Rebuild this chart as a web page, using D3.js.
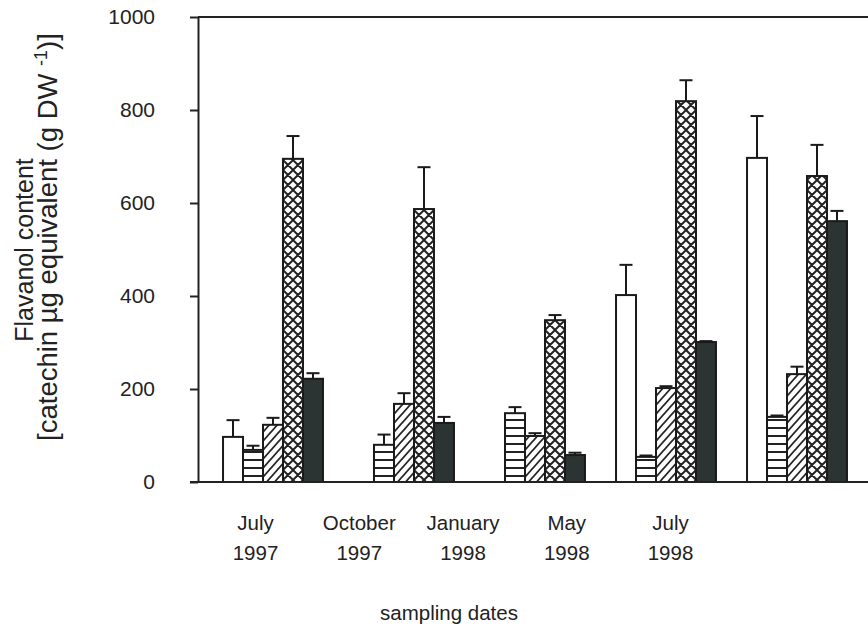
<!DOCTYPE html>
<html>
<head>
<meta charset="utf-8">
<script src="https://cdn.jsdelivr.net/npm/d3@7"></script>
<style>
  body { margin: 0; background: #fff; }
  svg { display: block; font-family: "Liberation Sans", Arial, sans-serif; }
  .axis path, .axis line { stroke: #222; stroke-width: 2; }
  .axis text { font-size: 21px; fill: #222; font-family: "Liberation Sans", Arial, sans-serif; }
</style>
</head>
<body>
<script>
//sampling dates (categories) and label lines
var dates = ["July 1997", "October 1997", "January 1998", "May 1998", "July 1998"];
var dateLabels = [["July", "1997"], ["October", "1997"], ["January", "1998"], ["May", "1998"], ["July", "1998"]];
var seriesNames = ["open", "horizontal", "hatched", "crosshatched", "solid"];
var yTicks = [0, 200, 400, 600, 800, 1000];

//flavanol content, one value per date (null = not measured)
var openVals = [97, null, null, 402, 697];
var openErr = [36, null, null, 65, 90];
var horizontalVals = [69, 80, 148, 54, 140];
var horizontalErr = [9, 22, 13, 3, 3];
var hatchedVals = [123, 168, 99, 202, 232];
var hatchedErr = [15, 23, 6, 4, 16];
var crossVals = [695, 587, 348, 819, 658];
var crossErr = [49, 90, 11, 45, 67];
var solidVals = [222, 127, 58, 301, 561];
var solidErr = [12, 13, 5, 2, 22];

var allVals = [openVals, horizontalVals, hatchedVals, crossVals, solidVals];
var allErr = [openErr, horizontalErr, hatchedErr, crossErr, solidErr];

window.onload = drawChart();

function drawChart(){
    var width = 868,
        height = 635;

    var svg = d3.select("body")
        .append("svg")
        .attr("width", width)
        .attr("height", height);

    //fill patterns for the bars
    var defs = svg.append("defs");
    defs.append("pattern")
        .attr("id", "p-horizontal")
        .attr("patternUnits", "userSpaceOnUse")
        .attr("width", 8).attr("height", 8)
        .append("path")
        .attr("d", "M0,4 L8,4")
        .attr("stroke", "#222").attr("stroke-width", 2);
    defs.append("pattern")
        .attr("id", "p-hatched")
        .attr("patternUnits", "userSpaceOnUse")
        .attr("width", 8).attr("height", 9)
        .append("path")
        .attr("d", "M-2,2.25 L2,-2.25 M0,9 L8,0 M6,11.25 L10,6.75")
        .attr("stroke", "#222").attr("stroke-width", 1.8);
    var cross = defs.append("pattern")
        .attr("id", "p-crosshatched")
        .attr("patternUnits", "userSpaceOnUse")
        .attr("width", 10).attr("height", 10);
    cross.append("path")
        .attr("d", "M-2,2 L2,-2 M0,10 L10,0 M8,12 L12,8 M-2,8 L2,12 M0,0 L10,10 M8,-2 L12,2")
        .attr("stroke", "#222").attr("stroke-width", 2);

    var fills = {
        open: "#fff",
        horizontal: "url(#p-horizontal)",
        hatched: "url(#p-hatched)",
        crosshatched: "url(#p-crosshatched)",
        solid: "#2b3433"
    };

    //scales
    var y = d3.scaleLinear()
        .domain([0, 1000])
        .range([482, 17]);

    var x0 = d3.scaleBand()
        .domain(dates)
        .range([207.5, 862.5])
        .paddingInner(0.237)
        .paddingOuter(0.1185);

    var x1 = d3.scaleBand()
        .domain(seriesNames)
        .range([0, x0.bandwidth()]);

    //labels sit on their own evenly spaced positions
    var xLab = d3.scalePoint()
        .domain(dates)
        .range([255, 670]);

    //frame top line
    svg.append("line")
        .attr("x1", 198).attr("x2", width)
        .attr("y1", y(1000)).attr("y2", y(1000))
        .attr("stroke", "#222").attr("stroke-width", 2);

    //bars
    var groups = svg.selectAll(".group")
        .data(dates)
        .enter()
        .append("g")
        .attr("class", "group")
        .attr("transform", function(d){ return "translate(" + x0(d) + ",0)"; });

    groups.each(function(date, i){
        var g = d3.select(this);
        var rows = seriesNames.map(function(s, k){
            return {series: s, value: allVals[k][i], err: allErr[k][i]};
        }).filter(function(r){ return r.value != null; });

        g.selectAll("rect")
            .data(rows)
            .enter()
            .append("rect")
            .attr("x", function(r){ return x1(r.series); })
            .attr("y", function(r){ return y(r.value); })
            .attr("width", x1.bandwidth())
            .attr("height", function(r){ return y(0) - y(r.value); })
            .attr("fill", function(r){ return fills[r.series]; })
            .attr("stroke", "#1a1a1a")
            .attr("stroke-width", 2);

        //error bars (upper half only)
        var cap = 6.5;
        var eb = g.selectAll(".err")
            .data(rows)
            .enter()
            .append("g")
            .attr("class", "err")
            .attr("stroke", "#1a1a1a")
            .attr("stroke-width", 2);
        eb.append("line")
            .attr("x1", function(r){ return x1(r.series) + x1.bandwidth() / 2; })
            .attr("x2", function(r){ return x1(r.series) + x1.bandwidth() / 2; })
            .attr("y1", function(r){ return y(r.value); })
            .attr("y2", function(r){ return y(r.value + r.err); });
        eb.append("line")
            .attr("x1", function(r){ return x1(r.series) + x1.bandwidth() / 2 - cap; })
            .attr("x2", function(r){ return x1(r.series) + x1.bandwidth() / 2 + cap; })
            .attr("y1", function(r){ return y(r.value + r.err); })
            .attr("y2", function(r){ return y(r.value + r.err); });
    });

    //x baseline
    svg.append("line")
        .attr("x1", 190).attr("x2", width)
        .attr("y1", y(0)).attr("y2", y(0))
        .attr("stroke", "#222").attr("stroke-width", 2);

    //y axis
    svg.append("g")
        .attr("class", "axis")
        .attr("transform", "translate(198,0)")
        .call(d3.axisLeft(y)
            .tickValues(yTicks)
            .tickFormat(d3.format("d"))
            .tickSize(8)
            .tickPadding(35)
            .tickSizeOuter(0));

    //x labels, two lines each
    var xAxis = svg.append("g")
        .attr("class", "axis")
        .attr("transform", "translate(0," + y(0) + ")")
        .call(d3.axisBottom(xLab).tickSize(0).tickFormat(""));
    xAxis.select(".domain").remove();
    xAxis.selectAll(".tick text").remove();
    xAxis.selectAll(".tick")
        .append("text")
        .attr("fill", "#222")
        .style("font-size", "20.5px")
        .attr("text-anchor", "middle")
        .selectAll("tspan")
        .data(function(d){ return dateLabels[dates.indexOf(d)]; })
        .enter()
        .append("tspan")
        .attr("x", 0)
        .attr("y", function(t, j){ return 48 + j * 30; })
        .text(function(t){ return t; });

    //axis titles
    svg.append("text")
        .attr("x", 449).attr("y", 620)
        .attr("text-anchor", "middle")
        .style("font-size", "20.5px")
        .attr("fill", "#222")
        .text("sampling dates");

    svg.append("text")
        .attr("transform", "translate(33,250) rotate(-90)")
        .attr("text-anchor", "middle")
        .style("font-size", "25px")
        .attr("fill", "#222")
        .text("Flavanol content");

    var t2 = svg.append("text")
        .attr("transform", "translate(57,237) rotate(-90)")
        .attr("text-anchor", "middle")
        .style("font-size", "27.5px")
        .attr("fill", "#222");
    t2.append("tspan").text("[catechin \u00b5g equivalent (g DW ");
    t2.append("tspan").attr("dy", -10).style("font-size", "18px").text("-1");
    t2.append("tspan").attr("dy", 10).text(")]");
}
</script>
</body>
</html>
